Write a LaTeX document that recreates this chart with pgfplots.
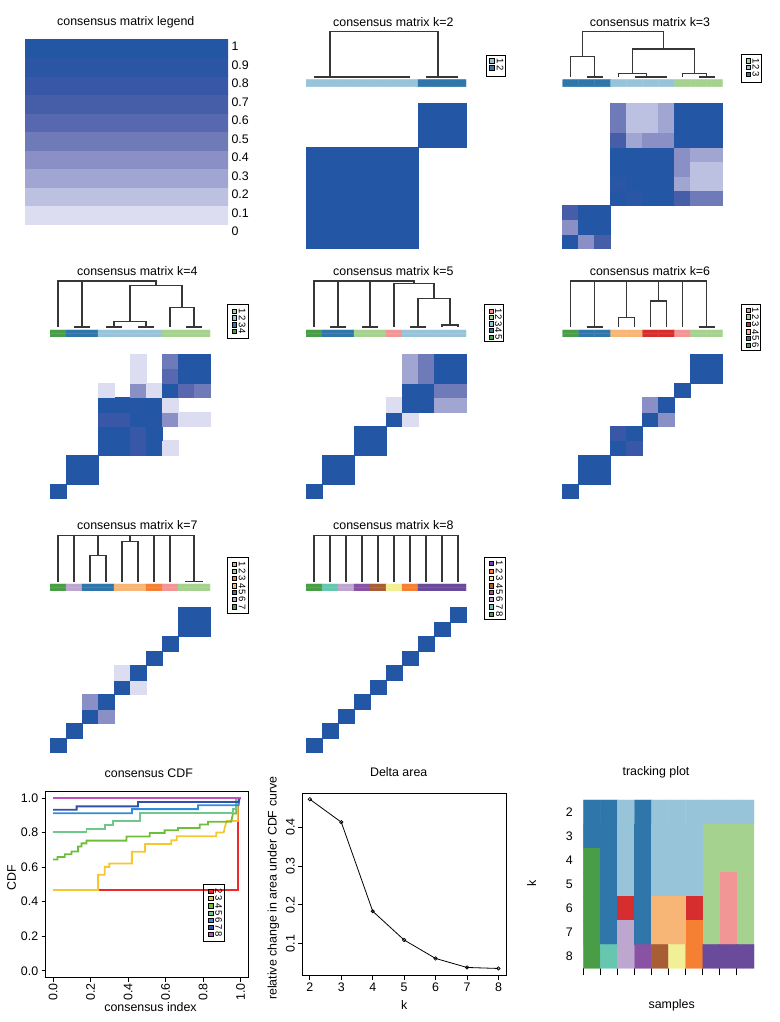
\documentclass[border=0pt]{standalone}
\usepackage{fontspec}
\setmainfont{Liberation Sans}
\usepackage{pgfplots}
\pgfplotsset{compat=1.18}
\newcommand\fs{\fontsize{12.4}{14.8}\selectfont}
\newcommand\fl{\fontsize{9.5}{10}\selectfont}
\definecolor{dgray}{RGB}{55,55,55}
\definecolor{c2}{RGB}{237,41,40}
\definecolor{c3}{RGB}{245,200,50}
\definecolor{c4}{RGB}{110,190,60}
\definecolor{c5}{RGB}{110,200,140}
\definecolor{c6}{RGB}{50,140,215}
\definecolor{c7}{RGB}{50,80,170}
\definecolor{c8}{RGB}{190,80,185}
\definecolor{lv1}{RGB}{220,221,240}
\definecolor{lv2}{RGB}{188,192,225}
\definecolor{lv3}{RGB}{160,165,210}
\definecolor{lv4}{RGB}{138,144,198}
\definecolor{lv5}{RGB}{111,122,184}
\definecolor{lv6}{RGB}{88,104,176}
\definecolor{lv7}{RGB}{70,93,168}
\definecolor{lv8}{RGB}{56,88,167}
\definecolor{lv9}{RGB}{43,86,165}
\definecolor{lv10}{RGB}{36,86,166}
\pgfplotsset{
 colormap={cons}{rgb255=(255,255,255) rgb255=(220,221,240) rgb255=(188,192,225) rgb255=(160,165,210) rgb255=(138,144,198) rgb255=(111,122,184) rgb255=(88,104,176) rgb255=(70,93,168) rgb255=(56,88,167) rgb255=(43,86,165) rgb255=(36,86,166)},
 colormap={trk}{rgb255=(152,196,218) rgb255=(47,119,171) rgb255=(74,157,71) rgb255=(165,210,142) rgb255=(242,149,149) rgb255=(214,46,46) rgb255=(247,182,118) rgb255=(245,127,50) rgb255=(189,167,207) rgb255=(138,82,163) rgb255=(106,74,154) rgb255=(169,93,53) rgb255=(242,240,150) rgb255=(102,198,176)},
 base/.style={scale only axis, anchor=north west},
 consmap/.style={colormap name=cons, point meta min=0, point meta max=10},
 trkmap/.style={colormap name=trk, point meta min=0, point meta max=13},
 hm/.style={base, hide axis, width=160pt, xmin=0.5, xmax=10.5, ymin=0.5, ymax=10.5, consmap},
 cb/.style={base, hide axis, width=160pt, height=7pt, xmin=0.5, xmax=10.5, ymin=-0.5, ymax=1.5, trkmap},
 dd/.style={base, hide axis, width=160pt, xmin=0, xmax=10, ymin=0, ymax=1, clip=false},
 dl/.style={color=dgray, line width=1.2pt, mark=none},
 lg/.style={base, xmin=0, ymin=0, y dir=reverse, xtick=\empty, ytick=\empty, clip=false, axis line style={line width=0.8pt}, trkmap},
 sq/.style={scatter, only marks, mark=square*, mark size=2.2pt, point meta=explicit, scatter/use mapped color={draw=black, fill=mapped color}},
 mp/.style={matrix plot*, mesh/cols=10, point meta=explicit},
 hmp/.style={scatter, only marks, mark=square*, mark size=8pt, point meta=explicit,
   scatter/use mapped color={draw=mapped color, fill=mapped color},
   mark options={yscale=0.905, line width=0.5pt},
   restrict expr to domain={\thisrow{c}}{0.5:10.5}},
}
\begin{document}
\begin{tikzpicture}
\useasboundingbox (0,0) rectangle (779pt,1022pt);
% ---------------- legend ramp
\begin{axis}[base, at={(25pt,983pt)}, width=203pt, height=203.5pt, xmin=0, xmax=1, ymin=-1, ymax=10,
 axis line style={draw=none}, xtick=\empty, ytick={-0.4,0.6,1.6,2.6,3.6,4.6,5.6,6.6,7.6,8.6,9.6},
 yticklabels={0,0.1,0.2,0.3,0.4,0.5,0.6,0.7,0.8,0.9,1}, ytick pos=right, yticklabel pos=right,
 tick style={draw=none}, major tick length=0pt, tick label style={font=\fs}]
\addplot[fill=lv1, draw=lv1, line width=0.2pt] coordinates {(0,0)(1,0)(1,1)(0,1)};
\addplot[fill=lv2, draw=lv2, line width=0.2pt] coordinates {(0,1)(1,1)(1,2)(0,2)};
\addplot[fill=lv3, draw=lv3, line width=0.2pt] coordinates {(0,2)(1,2)(1,3)(0,3)};
\addplot[fill=lv4, draw=lv4, line width=0.2pt] coordinates {(0,3)(1,3)(1,4)(0,4)};
\addplot[fill=lv5, draw=lv5, line width=0.2pt] coordinates {(0,4)(1,4)(1,5)(0,5)};
\addplot[fill=lv6, draw=lv6, line width=0.2pt] coordinates {(0,5)(1,5)(1,6)(0,6)};
\addplot[fill=lv7, draw=lv7, line width=0.2pt] coordinates {(0,6)(1,6)(1,7)(0,7)};
\addplot[fill=lv8, draw=lv8, line width=0.2pt] coordinates {(0,7)(1,7)(1,8)(0,8)};
\addplot[fill=lv9, draw=lv9, line width=0.2pt] coordinates {(0,8)(1,8)(1,9)(0,9)};
\addplot[fill=lv10, draw=lv10, line width=0.2pt] coordinates {(0,9)(1,9)(1,10)(0,10)};
\end{axis}
\node[font=\fs] at (125.8pt,999.3pt) {consensus matrix legend};
% ================= k=2
\node[font=\fs] at (393.3pt,1000.3pt) {consensus matrix k=2};
\begin{axis}[dd, at={(306pt,990.5pt)}, height=45.5pt]
\addplot[dl] coordinates {(0.5,0)(6.5,0)};
\addplot[dl] coordinates {(7.5,0)(9.5,0)};
\addplot[dl] coordinates {(1.5,0)(1.5,1)(8.25,1)(8.25,0)};
\end{axis}
\begin{axis}[cb, at={(306pt,942.3pt)}]
\addplot[mp] table[meta=c, row sep=\\] {x y c\\
1 0 0\\2 0 0\\3 0 0\\4 0 0\\5 0 0\\6 0 0\\7 0 0\\8 0 1\\9 0 1\\10 0 1\\
1 1 0\\2 1 0\\3 1 0\\4 1 0\\5 1 0\\6 1 0\\7 1 0\\8 1 1\\9 1 1\\10 1 1\\};
\end{axis}
\begin{axis}[hm, at={(306pt,918.7pt)}, height=145pt]
\addplot[hmp] table[meta=c, row sep=\\] {x y c\\
1 1 10\\2 1 10\\3 1 10\\4 1 10\\5 1 10\\6 1 10\\7 1 10\\8 1 0\\9 1 0\\10 1 0\\
1 2 10\\2 2 10\\3 2 10\\4 2 10\\5 2 10\\6 2 10\\7 2 10\\8 2 0\\9 2 0\\10 2 0\\
1 3 10\\2 3 10\\3 3 10\\4 3 10\\5 3 10\\6 3 10\\7 3 10\\8 3 0\\9 3 0\\10 3 0\\
1 4 10\\2 4 10\\3 4 10\\4 4 10\\5 4 10\\6 4 10\\7 4 10\\8 4 0\\9 4 0\\10 4 0\\
1 5 10\\2 5 10\\3 5 10\\4 5 10\\5 5 10\\6 5 10\\7 5 10\\8 5 0\\9 5 0\\10 5 0\\
1 6 10\\2 6 10\\3 6 10\\4 6 10\\5 6 10\\6 6 10\\7 6 10\\8 6 0\\9 6 0\\10 6 0\\
1 7 10\\2 7 10\\3 7 10\\4 7 10\\5 7 10\\6 7 10\\7 7 10\\8 7 0\\9 7 0\\10 7 0\\
1 8 0\\2 8 0\\3 8 0\\4 8 0\\5 8 0\\6 8 0\\7 8 0\\8 8 10\\9 8 10\\10 8 10\\
1 9 0\\2 9 0\\3 9 0\\4 9 0\\5 9 0\\6 9 0\\7 9 0\\8 9 10\\9 9 10\\10 9 10\\
1 10 0\\2 10 0\\3 10 0\\4 10 0\\5 10 0\\6 10 0\\7 10 0\\8 10 10\\9 10 10\\10 10 10\\};
\end{axis}
\begin{axis}[lg, at={(486.7pt,967pt)}, width=18.3pt, height=21pt, xmax=18.3, ymax=21]
\addplot[sq] coordinates {(5,5.7)[0] (5,12.7)[1]};
\node[font=\fl, rotate=-90] at (axis cs:13.5,5.7) {1};
\node[font=\fl, rotate=-90] at (axis cs:13.5,12.7) {2};
\end{axis}
% ================= k=3
\node[font=\fs] at (650pt,1000.3pt) {consensus matrix k=3};
\begin{axis}[dd, at={(562.7pt,990.5pt)}, height=45.5pt]
\addplot[dl] coordinates {(1.5,0)(2.5,0)};
\addplot[dl] coordinates {(0.5,0)(0.5,0.443)(2.0,0.443)(2.0,0)};
\addplot[dl] coordinates {(4.5,0)(6.5,0)};
\addplot[dl] coordinates {(3.5,0)(3.5,0.071)(5.25,0.071)(5.25,0)};
\addplot[dl] coordinates {(8.5,0)(9.5,0)};
\addplot[dl] coordinates {(7.5,0)(7.5,0.071)(9.0,0.071)(9.0,0)};
\addplot[dl] coordinates {(4.375,0.071)(4.375,0.614)(8.25,0.614)(8.25,0.071)};
\addplot[dl] coordinates {(1.25,0.443)(1.25,1)(6.31,1)(6.31,0.614)};
\end{axis}
\begin{axis}[cb, at={(562.7pt,942.3pt)}]
\addplot[mp] table[meta=c, row sep=\\] {x y c\\
1 0 1\\2 0 1\\3 0 1\\4 0 0\\5 0 0\\6 0 0\\7 0 0\\8 0 3\\9 0 3\\10 0 3\\
1 1 1\\2 1 1\\3 1 1\\4 1 0\\5 1 0\\6 1 0\\7 1 0\\8 1 3\\9 1 3\\10 1 3\\};
\end{axis}
\begin{axis}[hm, at={(562.7pt,918.7pt)}, height=145pt]
\addplot[hmp] table[meta=c, row sep=\\] {x y c\\
1 1 10\\2 1 4\\3 1 7\\4 1 0\\5 1 0\\6 1 0\\7 1 0\\8 1 0\\9 1 0\\10 1 0\\
1 2 4\\2 2 10\\3 2 10\\4 2 0\\5 2 0\\6 2 0\\7 2 0\\8 2 0\\9 2 0\\10 2 0\\
1 3 7\\2 3 10\\3 3 10\\4 3 0\\5 3 0\\6 3 0\\7 3 0\\8 3 0\\9 3 0\\10 3 0\\
1 4 0\\2 4 0\\3 4 0\\4 4 10\\5 4 9\\6 4 10\\7 4 10\\8 4 7\\9 4 5\\10 4 5\\
1 5 0\\2 5 0\\3 5 0\\4 5 9\\5 5 10\\6 5 10\\7 5 10\\8 5 3\\9 5 2\\10 5 2\\
1 6 0\\2 6 0\\3 6 0\\4 6 10\\5 6 10\\6 6 10\\7 6 10\\8 6 4\\9 6 2\\10 6 2\\
1 7 0\\2 7 0\\3 7 0\\4 7 10\\5 7 10\\6 7 10\\7 7 10\\8 7 4\\9 7 3\\10 7 3\\
1 8 0\\2 8 0\\3 8 0\\4 8 7\\5 8 3\\6 8 4\\7 8 4\\8 8 10\\9 8 10\\10 8 10\\
1 9 0\\2 9 0\\3 9 0\\4 9 5\\5 9 2\\6 9 2\\7 9 3\\8 9 10\\9 9 10\\10 9 10\\
1 10 0\\2 10 0\\3 10 0\\4 10 5\\5 10 2\\6 10 2\\7 10 3\\8 10 10\\9 10 10\\10 10 10\\};
\end{axis}
\begin{axis}[lg, at={(741pt,968pt)}, width=20pt, height=28pt, xmax=20, ymax=28]
\addplot[sq] coordinates {(7.3,6.7)[3] (7.3,13.3)[0] (7.3,20)[1]};
\node[font=\fl, rotate=-90] at (axis cs:15,6.7) {1};
\node[font=\fl, rotate=-90] at (axis cs:15,13.3) {2};
\node[font=\fl, rotate=-90] at (axis cs:15,20) {3};
\end{axis}
% ================= k=4
\node[font=\fs] at (137.3pt,751pt) {consensus matrix k=4};
\begin{axis}[dd, at={(50pt,741pt)}, height=46pt]
\addplot[dl] coordinates {(1.5,0)(2.5,0)};
\addplot[dl] coordinates {(3.5,0)(4.5,0)};
\addplot[dl] coordinates {(5.5,0)(6.5,0)};
\addplot[dl] coordinates {(8.5,0)(9.5,0)};
\addplot[dl] coordinates {(4.0,0)(4.0,0.124)(6.0,0.124)(6.0,0)};
\addplot[dl] coordinates {(7.5,0)(7.5,0.423)(9.0,0.423)(9.0,0)};
\addplot[dl] coordinates {(5.0,0.124)(5.0,0.898)(8.25,0.898)(8.25,0.423)};
\addplot[dl] coordinates {(0.5,0)(0.5,1)(6.625,1)(6.625,0.898)};
\addplot[dl] coordinates {(2.0,0)(2.0,1)};
\end{axis}
\begin{axis}[cb, at={(50pt,692pt)}]
\addplot[mp] table[meta=c, row sep=\\] {x y c\\
1 0 2\\2 0 1\\3 0 1\\4 0 0\\5 0 0\\6 0 0\\7 0 0\\8 0 3\\9 0 3\\10 0 3\\
1 1 2\\2 1 1\\3 1 1\\4 1 0\\5 1 0\\6 1 0\\7 1 0\\8 1 3\\9 1 3\\10 1 3\\};
\end{axis}
\begin{axis}[hm, at={(50pt,668pt)}, height=144.5pt]
\addplot[hmp] table[meta=c, row sep=\\] {x y c\\
1 1 10\\2 1 0\\3 1 0\\4 1 0\\5 1 0\\6 1 0\\7 1 0\\8 1 0\\9 1 0\\10 1 0\\
1 2 0\\2 2 10\\3 2 10\\4 2 0\\5 2 0\\6 2 0\\7 2 0\\8 2 0\\9 2 0\\10 2 0\\
1 3 0\\2 3 10\\3 3 10\\4 3 0\\5 3 0\\6 3 0\\7 3 0\\8 3 0\\9 3 0\\10 3 0\\
1 4 0\\2 4 0\\3 4 0\\4 4 10\\5 4 10\\6 4 8\\7 4 10\\8 4 1\\9 4 0\\10 4 0\\
1 5 0\\2 5 0\\3 5 0\\4 5 10\\5 5 10\\6 5 8\\7 5 10\\8 5 0\\9 5 0\\10 5 0\\
1 6 0\\2 6 0\\3 6 0\\4 6 8\\5 6 8\\6 6 10\\7 6 10\\8 6 4\\9 6 1\\10 6 1\\
1 7 0\\2 7 0\\3 7 0\\4 7 10\\5 7 10\\6 7 10\\7 7 10\\8 7 1\\9 7 0\\10 7 0\\
1 8 0\\2 8 0\\3 8 0\\4 8 1\\5 8 0\\6 8 4\\7 8 1\\8 8 10\\9 8 6\\10 8 5\\
1 9 0\\2 9 0\\3 9 0\\4 9 0\\5 9 0\\6 9 1\\7 9 0\\8 9 6\\9 9 10\\10 9 10\\
1 10 0\\2 10 0\\3 10 0\\4 10 0\\5 10 0\\6 10 1\\7 10 0\\8 10 5\\9 10 10\\10 10 10\\};
\end{axis}
\begin{axis}[lg, at={(227.7pt,717.7pt)}, width=20.6pt, height=34pt, xmax=20.6, ymax=34]
\addplot[sq] coordinates {(6.6,6.7)[3] (6.6,13.4)[0] (6.6,20.4)[1] (6.6,27.2)[2]};
\node[font=\fl, rotate=-90] at (axis cs:14.5,6.7) {1};
\node[font=\fl, rotate=-90] at (axis cs:14.5,13.4) {2};
\node[font=\fl, rotate=-90] at (axis cs:14.5,20.4) {3};
\node[font=\fl, rotate=-90] at (axis cs:14.5,27.2) {4};
\end{axis}
% ================= k=5
\node[font=\fs] at (393.3pt,751pt) {consensus matrix k=5};
\begin{axis}[dd, at={(306pt,741pt)}, height=46pt]
\addplot[dl] coordinates {(1.5,0)(2.5,0)};
\addplot[dl] coordinates {(3.5,0)(4.5,0)};
\addplot[dl] coordinates {(6.5,0)(7.5,0)};
\addplot[dl] coordinates {(8.5,0)(8.5,0.043)(9.5,0.043)(9.5,0)};
\addplot[dl] coordinates {(7.0,0)(7.0,0.623)(9.0,0.623)(9.0,0.043)};
\addplot[dl] coordinates {(5.5,0)(5.5,0.949)(8.0,0.949)(8.0,0.623)};
\addplot[dl] coordinates {(0.5,0)(0.5,1)(6.75,1)(6.75,0.949)};
\addplot[dl] coordinates {(2.0,0)(2.0,1)};
\addplot[dl] coordinates {(4.0,0)(4.0,1)};
\end{axis}
\begin{axis}[cb, at={(306pt,692pt)}]
\addplot[mp] table[meta=c, row sep=\\] {x y c\\
1 0 2\\2 0 1\\3 0 1\\4 0 3\\5 0 3\\6 0 4\\7 0 0\\8 0 0\\9 0 0\\10 0 0\\
1 1 2\\2 1 1\\3 1 1\\4 1 3\\5 1 3\\6 1 4\\7 1 0\\8 1 0\\9 1 0\\10 1 0\\};
\end{axis}
\begin{axis}[hm, at={(306pt,668pt)}, height=144.5pt]
\addplot[hmp] table[meta=c, row sep=\\] {x y c\\
1 1 10\\2 1 0\\3 1 0\\4 1 0\\5 1 0\\6 1 0\\7 1 0\\8 1 0\\9 1 0\\10 1 0\\
1 2 0\\2 2 10\\3 2 10\\4 2 0\\5 2 0\\6 2 0\\7 2 0\\8 2 0\\9 2 0\\10 2 0\\
1 3 0\\2 3 10\\3 3 10\\4 3 0\\5 3 0\\6 3 0\\7 3 0\\8 3 0\\9 3 0\\10 3 0\\
1 4 0\\2 4 0\\3 4 0\\4 4 10\\5 4 10\\6 4 0\\7 4 0\\8 4 0\\9 4 0\\10 4 0\\
1 5 0\\2 5 0\\3 5 0\\4 5 10\\5 5 10\\6 5 0\\7 5 0\\8 5 0\\9 5 0\\10 5 0\\
1 6 0\\2 6 0\\3 6 0\\4 6 0\\5 6 0\\6 6 10\\7 6 1\\8 6 0\\9 6 0\\10 6 0\\
1 7 0\\2 7 0\\3 7 0\\4 7 0\\5 7 0\\6 7 1\\7 7 10\\8 7 10\\9 7 3\\10 7 3\\
1 8 0\\2 8 0\\3 8 0\\4 8 0\\5 8 0\\6 8 0\\7 8 10\\8 8 10\\9 8 5\\10 8 5\\
1 9 0\\2 9 0\\3 9 0\\4 9 0\\5 9 0\\6 9 0\\7 9 3\\8 9 5\\9 9 10\\10 9 10\\
1 10 0\\2 10 0\\3 10 0\\4 10 0\\5 10 0\\6 10 0\\7 10 3\\8 10 5\\9 10 10\\10 10 10\\};
\end{axis}
\begin{axis}[lg, at={(484.7pt,717.3pt)}, width=18.3pt, height=36.6pt, xmax=18.3, ymax=36.6]
\addplot[sq] coordinates {(6.6,6.6)[4] (6.6,12.6)[3] (6.6,19)[0] (6.6,25.6)[1] (6.6,32.3)[2]};
\node[font=\fl, rotate=-90] at (axis cs:13.8,6.6) {1};
\node[font=\fl, rotate=-90] at (axis cs:13.8,12.6) {2};
\node[font=\fl, rotate=-90] at (axis cs:13.8,19) {3};
\node[font=\fl, rotate=-90] at (axis cs:13.8,25.6) {4};
\node[font=\fl, rotate=-90] at (axis cs:13.8,32.3) {5};
\end{axis}
% ================= k=6
\node[font=\fs] at (650pt,751pt) {consensus matrix k=6};
\begin{axis}[dd, at={(562.7pt,741pt)}, height=46pt]
\addplot[dl] coordinates {(1.5,0)(2.5,0)};
\addplot[dl] coordinates {(3.5,0)(3.5,0.21)(4.5,0.21)(4.5,0)};
\addplot[dl] coordinates {(5.5,0)(5.5,0.565)(6.5,0.565)(6.5,0)};
\addplot[dl] coordinates {(8.5,0)(9.5,0)};
\addplot[dl] coordinates {(0.5,0)(0.5,1)(9.0,1)(9.0,0)};
\addplot[dl] coordinates {(2.0,0)(2.0,1)};
\addplot[dl] coordinates {(4.0,0.21)(4.0,1)};
\addplot[dl] coordinates {(6.0,0.565)(6.0,1)};
\addplot[dl] coordinates {(7.5,0)(7.5,1)};
\end{axis}
\begin{axis}[cb, at={(562.7pt,692pt)}]
\addplot[mp] table[meta=c, row sep=\\] {x y c\\
1 0 2\\2 0 1\\3 0 1\\4 0 6\\5 0 6\\6 0 5\\7 0 5\\8 0 4\\9 0 3\\10 0 3\\
1 1 2\\2 1 1\\3 1 1\\4 1 6\\5 1 6\\6 1 5\\7 1 5\\8 1 4\\9 1 3\\10 1 3\\};
\end{axis}
\begin{axis}[hm, at={(562.7pt,668pt)}, height=144.5pt]
\addplot[hmp] table[meta=c, row sep=\\] {x y c\\
1 1 10\\2 1 0\\3 1 0\\4 1 0\\5 1 0\\6 1 0\\7 1 0\\8 1 0\\9 1 0\\10 1 0\\
1 2 0\\2 2 10\\3 2 10\\4 2 0\\5 2 0\\6 2 0\\7 2 0\\8 2 0\\9 2 0\\10 2 0\\
1 3 0\\2 3 10\\3 3 10\\4 3 0\\5 3 0\\6 3 0\\7 3 0\\8 3 0\\9 3 0\\10 3 0\\
1 4 0\\2 4 0\\3 4 0\\4 4 10\\5 4 8\\6 4 0\\7 4 0\\8 4 0\\9 4 0\\10 4 0\\
1 5 0\\2 5 0\\3 5 0\\4 5 8\\5 5 10\\6 5 0\\7 5 0\\8 5 0\\9 5 0\\10 5 0\\
1 6 0\\2 6 0\\3 6 0\\4 6 0\\5 6 0\\6 6 10\\7 6 4\\8 6 0\\9 6 0\\10 6 0\\
1 7 0\\2 7 0\\3 7 0\\4 7 0\\5 7 0\\6 7 4\\7 7 10\\8 7 0\\9 7 0\\10 7 0\\
1 8 0\\2 8 0\\3 8 0\\4 8 0\\5 8 0\\6 8 0\\7 8 0\\8 8 10\\9 8 0\\10 8 0\\
1 9 0\\2 9 0\\3 9 0\\4 9 0\\5 9 0\\6 9 0\\7 9 0\\8 9 0\\9 9 10\\10 9 10\\
1 10 0\\2 10 0\\3 10 0\\4 10 0\\5 10 0\\6 10 0\\7 10 0\\8 10 0\\9 10 10\\10 10 10\\};
\end{axis}
\begin{axis}[lg, at={(741pt,717.7pt)}, width=19.7pt, height=46.5pt, xmax=19.7, ymax=46.5]
\addplot[sq] coordinates {(7,5.7)[4] (7,12.4)[3] (7,20)[5] (7,27.4)[6] (7,34)[1] (7,40.7)[2]};
\node[font=\fl, rotate=-90] at (axis cs:14.5,5.7) {1};
\node[font=\fl, rotate=-90] at (axis cs:14.5,12.4) {2};
\node[font=\fl, rotate=-90] at (axis cs:14.5,20) {3};
\node[font=\fl, rotate=-90] at (axis cs:14.5,27.4) {4};
\node[font=\fl, rotate=-90] at (axis cs:14.5,34) {5};
\node[font=\fl, rotate=-90] at (axis cs:14.5,40.7) {6};
\end{axis}
% ================= k=7
\node[font=\fs] at (137.3pt,497pt) {consensus matrix k=7};
\begin{axis}[dd, at={(50pt,486.5pt)}, height=46.5pt]
\addplot[dl] coordinates {(2.5,0)(2.5,0.562)(3.5,0.562)(3.5,0)};
\addplot[dl] coordinates {(4.5,0)(4.5,0.876)(5.5,0.876)(5.5,0)};
\addplot[dl] coordinates {(8.5,0)(8.5,0.015)(9.5,0.015)(9.5,0)};
\addplot[dl] coordinates {(0.5,0)(0.5,1)(9.0,1)(9.0,0.015)};
\addplot[dl] coordinates {(1.5,0)(1.5,1)};
\addplot[dl] coordinates {(3.0,0.562)(3.0,1)};
\addplot[dl] coordinates {(5.0,0.876)(5.0,1)};
\addplot[dl] coordinates {(6.5,0)(6.5,1)};
\addplot[dl] coordinates {(7.5,0)(7.5,1)};
\end{axis}
\begin{axis}[cb, at={(50pt,438pt)}]
\addplot[mp] table[meta=c, row sep=\\] {x y c\\
1 0 2\\2 0 8\\3 0 1\\4 0 1\\5 0 6\\6 0 6\\7 0 7\\8 0 4\\9 0 3\\10 0 3\\
1 1 2\\2 1 8\\3 1 1\\4 1 1\\5 1 6\\6 1 6\\7 1 7\\8 1 4\\9 1 3\\10 1 3\\};
\end{axis}
\begin{axis}[hm, at={(50pt,414.7pt)}, height=145pt]
\addplot[hmp] table[meta=c, row sep=\\] {x y c\\
1 1 10\\2 1 0\\3 1 0\\4 1 0\\5 1 0\\6 1 0\\7 1 0\\8 1 0\\9 1 0\\10 1 0\\
1 2 0\\2 2 10\\3 2 0\\4 2 0\\5 2 0\\6 2 0\\7 2 0\\8 2 0\\9 2 0\\10 2 0\\
1 3 0\\2 3 0\\3 3 10\\4 3 4\\5 3 0\\6 3 0\\7 3 0\\8 3 0\\9 3 0\\10 3 0\\
1 4 0\\2 4 0\\3 4 4\\4 4 10\\5 4 0\\6 4 0\\7 4 0\\8 4 0\\9 4 0\\10 4 0\\
1 5 0\\2 5 0\\3 5 0\\4 5 0\\5 5 10\\6 5 1\\7 5 0\\8 5 0\\9 5 0\\10 5 0\\
1 6 0\\2 6 0\\3 6 0\\4 6 0\\5 6 1\\6 6 10\\7 6 0\\8 6 0\\9 6 0\\10 6 0\\
1 7 0\\2 7 0\\3 7 0\\4 7 0\\5 7 0\\6 7 0\\7 7 10\\8 7 0\\9 7 0\\10 7 0\\
1 8 0\\2 8 0\\3 8 0\\4 8 0\\5 8 0\\6 8 0\\7 8 0\\8 8 10\\9 8 0\\10 8 0\\
1 9 0\\2 9 0\\3 9 0\\4 9 0\\5 9 0\\6 9 0\\7 9 0\\8 9 0\\9 9 10\\10 9 10\\
1 10 0\\2 10 0\\3 10 0\\4 10 0\\5 10 0\\6 10 0\\7 10 0\\8 10 0\\9 10 10\\10 10 10\\};
\end{axis}
\begin{axis}[lg, at={(227.7pt,464.3pt)}, width=20.6pt, height=55.5pt, xmax=20.6, ymax=55.5]
\addplot[sq] coordinates {(6.6,6.3)[4] (6.6,13.3)[3] (6.6,20.6)[7] (6.6,28)[6] (6.6,34.6)[1] (6.6,41.6)[8] (6.6,49)[2]};
\node[font=\fl, rotate=-90] at (axis cs:14.5,6.3) {1};
\node[font=\fl, rotate=-90] at (axis cs:14.5,13.3) {2};
\node[font=\fl, rotate=-90] at (axis cs:14.5,20.6) {3};
\node[font=\fl, rotate=-90] at (axis cs:14.5,28) {4};
\node[font=\fl, rotate=-90] at (axis cs:14.5,34.6) {5};
\node[font=\fl, rotate=-90] at (axis cs:14.5,41.6) {6};
\node[font=\fl, rotate=-90] at (axis cs:14.5,49) {7};
\end{axis}
% ================= k=8
\node[font=\fs] at (393.3pt,497pt) {consensus matrix k=8};
\begin{axis}[dd, at={(306pt,486.5pt)}, height=46.5pt]
\addplot[dl] coordinates {(0.5,0)(0.5,1)(9.5,1)(9.5,0)};
\addplot[dl] coordinates {(1.5,0)(1.5,1)};
\addplot[dl] coordinates {(2.5,0)(2.5,1)};
\addplot[dl] coordinates {(3.5,0)(3.5,1)};
\addplot[dl] coordinates {(4.5,0)(4.5,1)};
\addplot[dl] coordinates {(5.5,0)(5.5,1)};
\addplot[dl] coordinates {(6.5,0)(6.5,1)};
\addplot[dl] coordinates {(7.5,0)(7.5,1)};
\addplot[dl] coordinates {(8.5,0)(8.5,1)};
\end{axis}
\begin{axis}[cb, at={(306pt,438pt)}]
\addplot[mp] table[meta=c, row sep=\\] {x y c\\
1 0 2\\2 0 13\\3 0 8\\4 0 9\\5 0 11\\6 0 12\\7 0 7\\8 0 10\\9 0 10\\10 0 10\\
1 1 2\\2 1 13\\3 1 8\\4 1 9\\5 1 11\\6 1 12\\7 1 7\\8 1 10\\9 1 10\\10 1 10\\};
\end{axis}
\begin{axis}[hm, at={(306pt,414.7pt)}, height=145pt]
\addplot[hmp] table[meta=c, row sep=\\] {x y c\\
1 1 10\\2 1 0\\3 1 0\\4 1 0\\5 1 0\\6 1 0\\7 1 0\\8 1 0\\9 1 0\\10 1 0\\
1 2 0\\2 2 10\\3 2 0\\4 2 0\\5 2 0\\6 2 0\\7 2 0\\8 2 0\\9 2 0\\10 2 0\\
1 3 0\\2 3 0\\3 3 10\\4 3 0\\5 3 0\\6 3 0\\7 3 0\\8 3 0\\9 3 0\\10 3 0\\
1 4 0\\2 4 0\\3 4 0\\4 4 10\\5 4 0\\6 4 0\\7 4 0\\8 4 0\\9 4 0\\10 4 0\\
1 5 0\\2 5 0\\3 5 0\\4 5 0\\5 5 10\\6 5 0\\7 5 0\\8 5 0\\9 5 0\\10 5 0\\
1 6 0\\2 6 0\\3 6 0\\4 6 0\\5 6 0\\6 6 10\\7 6 0\\8 6 0\\9 6 0\\10 6 0\\
1 7 0\\2 7 0\\3 7 0\\4 7 0\\5 7 0\\6 7 0\\7 7 10\\8 7 0\\9 7 0\\10 7 0\\
1 8 0\\2 8 0\\3 8 0\\4 8 0\\5 8 0\\6 8 0\\7 8 0\\8 8 10\\9 8 0\\10 8 0\\
1 9 0\\2 9 0\\3 9 0\\4 9 0\\5 9 0\\6 9 0\\7 9 0\\8 9 0\\9 9 10\\10 9 0\\
1 10 0\\2 10 0\\3 10 0\\4 10 0\\5 10 0\\6 10 0\\7 10 0\\8 10 0\\9 10 0\\10 10 10\\};
\end{axis}
\begin{axis}[lg, at={(484.3pt,464.3pt)}, width=20.7pt, height=62pt, xmax=20.7, ymax=62]
\addplot[sq] coordinates {(7,5.6)[10] (7,13.3)[7] (7,20.6)[12] (7,28)[11] (7,34.6)[9] (7,41.6)[8] (7,49)[13] (7,56.3)[2]};
\node[font=\fl, rotate=-90] at (axis cs:15,5.6) {1};
\node[font=\fl, rotate=-90] at (axis cs:15,13.3) {2};
\node[font=\fl, rotate=-90] at (axis cs:15,20.6) {3};
\node[font=\fl, rotate=-90] at (axis cs:15,28) {4};
\node[font=\fl, rotate=-90] at (axis cs:15,34.6) {5};
\node[font=\fl, rotate=-90] at (axis cs:15,41.6) {6};
\node[font=\fl, rotate=-90] at (axis cs:15,49) {7};
\node[font=\fl, rotate=-90] at (axis cs:15,56.3) {8};
\end{axis}
% ================= CDF
\node[font=\fs] at (148.8pt,248.7pt) {consensus CDF};
\node[font=\fs] at (150.5pt,15.3pt) {consensus index};
\node[font=\fs, rotate=90] at (11.7pt,144.5pt) {CDF};
\begin{axis}[base, at={(45.7pt,231pt)}, width=202.3pt, height=186.7pt,
 xmin=-0.04, xmax=1.04, ymin=-0.04, ymax=1.04,
 xtick={0,0.2,0.4,0.6,0.8,1}, xticklabels={0.0,0.2,0.4,0.6,0.8,1.0},
 ytick={0,0.2,0.4,0.6,0.8,1}, yticklabels={0.0,0.2,0.4,0.6,0.8,1.0},
 tick align=outside, major tick length=4pt, xtick pos=left, ytick pos=left,
 xticklabel style={rotate=90, anchor=east, inner sep=1.5pt}, tick label style={font=\fs},
 axis line style={line width=0.8pt}, tick style={black, line width=0.8pt}]
\addplot[c2, line width=1.8pt] coordinates {(0,0.467)(0.988,0.467)(0.988,1)(1,1)};
\addplot[c3, line width=1.8pt] coordinates {(0,0.467)(0.24,0.467)(0.24,0.555)(0.275,0.555)(0.275,0.601)(0.30,0.601)(0.30,0.621)(0.42,0.621)(0.42,0.689)(0.49,0.689)(0.49,0.733)(0.63,0.733)(0.63,0.755)(0.66,0.755)(0.66,0.778)(0.87,0.778)(0.87,0.80)(0.91,0.80)(0.925,0.867)(0.985,0.867)(0.985,1)(1,1)};
\addplot[c4, line width=1.8pt] coordinates {(0,0.644)(0.023,0.644)(0.023,0.658)(0.062,0.658)(0.062,0.674)(0.098,0.674)(0.098,0.690)(0.133,0.690)(0.133,0.719)(0.151,0.719)(0.151,0.737)(0.178,0.737)(0.178,0.753)(0.391,0.753)(0.391,0.777)(0.515,0.777)(0.515,0.797)(0.595,0.797)(0.595,0.813)(0.666,0.813)(0.666,0.826)(0.782,0.826)(0.782,0.846)(0.826,0.846)(0.826,0.862)(0.95,0.862)(0.96,0.91)(0.977,0.91)(0.977,1)(1,1)};
\addplot[c5, line width=1.8pt] coordinates {(0,0.802)(0.178,0.802)(0.178,0.822)(0.275,0.822)(0.275,0.842)(0.32,0.842)(0.32,0.868)(0.462,0.868)(0.462,0.911)(0.959,0.911)(0.959,0.935)(0.977,0.935)(0.977,1)(1,1)};
\addplot[c6, line width=1.8pt] coordinates {(0,0.911)(0.421,0.911)(0.421,0.935)(0.773,0.935)(0.773,0.957)(0.99,0.957)(0.995,1)(1,1)};
\addplot[c7, line width=1.8pt] coordinates {(0,0.931)(0.125,0.931)(0.125,0.951)(0.453,0.951)(0.453,0.976)(0.99,0.976)(0.995,1)(1,1)};
\addplot[c8, line width=1.8pt] coordinates {(0,1)(1,1)};
\end{axis}
\begin{axis}[lg, at={(203.7pt,137.7pt)}, width=20.3pt, height=56.7pt, xmax=20.3, ymax=56.7]
\addplot[only marks, mark=square*, mark size=2.2pt, mark options={fill=c2, draw=black}] coordinates {(7,6.7)};
\addplot[only marks, mark=square*, mark size=2.2pt, mark options={fill=c3, draw=black}] coordinates {(7,14)};
\addplot[only marks, mark=square*, mark size=2.2pt, mark options={fill=c4, draw=black}] coordinates {(7,21.4)};
\addplot[only marks, mark=square*, mark size=2.2pt, mark options={fill=c5, draw=black}] coordinates {(7,28.7)};
\addplot[only marks, mark=square*, mark size=2.2pt, mark options={fill=c6, draw=black}] coordinates {(7,35.7)};
\addplot[only marks, mark=square*, mark size=2.2pt, mark options={fill=c7, draw=black}] coordinates {(7,43)};
\addplot[only marks, mark=square*, mark size=2.2pt, mark options={fill=c8, draw=black}] coordinates {(7,50)};
\node[font=\fl, rotate=-90] at (axis cs:15,6.7) {2};
\node[font=\fl, rotate=-90] at (axis cs:15,14) {3};
\node[font=\fl, rotate=-90] at (axis cs:15,21.4) {4};
\node[font=\fl, rotate=-90] at (axis cs:15,28.7) {5};
\node[font=\fl, rotate=-90] at (axis cs:15,35.7) {6};
\node[font=\fl, rotate=-90] at (axis cs:15,43) {7};
\node[font=\fl, rotate=-90] at (axis cs:15,50) {8};
\end{axis}
% ================= Delta area
\node[font=\fs] at (398.7pt,249.7pt) {Delta area};
\node[font=\fs] at (404.3pt,17pt) {k};
\node[font=\fs, rotate=90] at (273.3pt,133.7pt) {relative change in area under CDF curve};
\begin{axis}[base, at={(302.3pt,228.7pt)}, width=203.7pt, height=182.4pt,
 xmin=1.76, xmax=8.24, ymin=0.0176, ymax=0.4874,
 xtick={2,3,4,5,6,7,8}, xticklabels={2,3,4,5,6,7,8},
 ytick={0.1,0.2,0.3,0.4}, yticklabels={0.1,0.2,0.3,0.4},
 tick align=outside, major tick length=4pt, xtick pos=left, ytick pos=left,
 yticklabel style={rotate=90, anchor=south}, tick label style={font=\fs},
 axis line style={line width=0.8pt}, tick style={black, line width=0.8pt}]
\addplot[black, line width=0.8pt, mark=o, mark size=1.7pt, mark options={line width=0.7pt}] coordinates {(2,0.472)(3,0.413)(4,0.1836)(5,0.1095)(6,0.062)(7,0.0388)(8,0.0362)};
\end{axis}
% ================= tracking
\node[font=\fs] at (656pt,249.7pt) {tracking plot};
\node[font=\fs, rotate=90] at (531.7pt,138.7pt) {k};
\node[font=\fs] at (671.7pt,16.3pt) {samples};
\begin{axis}[base, at={(583.3pt,222pt)}, width=170.7pt, height=168.3pt,
 xmin=0.5, xmax=10.5, ymin=1.5, ymax=8.5, y dir=reverse, axis line style={draw=none},
 xtick={0.5,1.5,2.5,3.5,4.5,5.5,6.5,7.5,8.5,9.5}, xticklabels={},
 ytick={2,3,4,5,6,7,8}, yticklabels={2,3,4,5,6,7,8},
 tick align=outside, major tick length=7pt, xtick pos=left, ytick pos=left,
 x tick style={black, line width=1.1pt}, y tick style={draw=none}, tick label style={font=\fs},
 trkmap]
\addplot[mp] table[meta=c, row sep=\\] {x y c\\
1 2 1\\2 2 1\\3 2 0\\4 2 1\\5 2 0\\6 2 0\\7 2 0\\8 2 0\\9 2 0\\10 2 0\\
1 3 1\\2 3 1\\3 3 0\\4 3 1\\5 3 0\\6 3 0\\7 3 0\\8 3 3\\9 3 3\\10 3 3\\
1 4 2\\2 4 1\\3 4 0\\4 4 1\\5 4 0\\6 4 0\\7 4 0\\8 4 3\\9 4 3\\10 4 3\\
1 5 2\\2 5 1\\3 5 0\\4 5 1\\5 5 0\\6 5 0\\7 5 0\\8 5 3\\9 5 4\\10 5 3\\
1 6 2\\2 6 1\\3 6 5\\4 6 1\\5 6 6\\6 6 6\\7 6 5\\8 6 3\\9 6 4\\10 6 3\\
1 7 2\\2 7 1\\3 7 8\\4 7 1\\5 7 6\\6 7 6\\7 7 7\\8 7 3\\9 7 4\\10 7 3\\
1 8 2\\2 8 13\\3 8 8\\4 8 9\\5 8 11\\6 8 12\\7 8 7\\8 8 10\\9 8 10\\10 8 10\\};
\end{axis}
\end{tikzpicture}
\end{document}
